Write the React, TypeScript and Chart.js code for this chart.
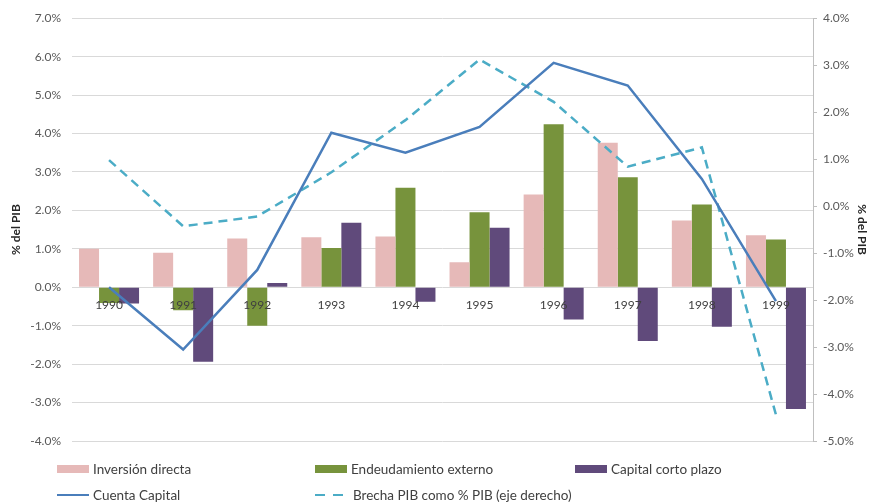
import React, { useEffect, useRef } from "react";
import { Chart, registerables } from "chart.js";

Chart.register(...registerables);

const years = ["1990", "1991", "1992", "1993", "1994", "1995", "1996", "1997", "1998", "1999"];
const inversionDirecta = [1.0, 0.9, 1.27, 1.3, 1.32, 0.65, 2.41, 3.76, 1.74, 1.35];
const endeudamientoExterno = [-0.41, -0.6, -1.0, 1.02, 2.59, 1.95, 4.24, 2.86, 2.15, 1.24];
const capitalCortoPlazo = [-0.42, -1.94, 0.11, 1.68, -0.38, 1.55, -0.84, -1.4, -1.03, -3.17];
const cuentaCapital = [0.0, -1.62, 0.45, 4.02, 3.5, 4.17, 5.84, 5.25, 2.82, -0.36];
const brechaPIB = [0.98, -0.43, -0.22, 0.72, 1.83, 3.12, 2.22, 0.84, 1.25, -4.44];

const leftMin = -4;
const leftMax = 7;
const rightMin = -5;
const rightMax = 4;

const FONT = "Lato, 'Open Sans', sans-serif";
const C_PINK = "#E6B9B8";
const C_GREEN = "#77933C";
const C_PURPLE = "#604A7B";
const C_BLUE = "#4A7EBB";
const C_CYAN = "#4BACC6";

const pct = (v: number | string) => `${Number(v).toFixed(1)}%`;

export default function App() {
  const ref = useRef<HTMLCanvasElement | null>(null);

  useEffect(() => {
    if (!ref.current) return;
    const chart = new Chart(ref.current, {
      type: "bar",
      data: {
        labels: years,
        datasets: [
          {
            type: "line",
            label: "Cuenta Capital",
            data: cuentaCapital,
            yAxisID: "y",
            borderColor: C_BLUE,
            backgroundColor: C_BLUE,
            borderWidth: 2.5,
            pointRadius: 0,
            tension: 0,
            order: 0,
          } as any,
          {
            type: "line",
            label: "Brecha PIB como % PIB (eje derecho)",
            data: brechaPIB,
            yAxisID: "y2",
            borderColor: C_CYAN,
            backgroundColor: C_CYAN,
            borderWidth: 2.5,
            borderDash: [9, 6],
            pointRadius: 0,
            tension: 0,
            order: 0,
          } as any,
          {
            label: "Inversión directa",
            data: inversionDirecta,
            yAxisID: "y",
            backgroundColor: C_PINK,
            categoryPercentage: 0.81,
            barPercentage: 1.0,
            order: 1,
          },
          {
            label: "Endeudamiento externo",
            data: endeudamientoExterno,
            yAxisID: "y",
            backgroundColor: C_GREEN,
            categoryPercentage: 0.81,
            barPercentage: 1.0,
            order: 1,
          },
          {
            label: "Capital corto plazo",
            data: capitalCortoPlazo,
            yAxisID: "y",
            backgroundColor: C_PURPLE,
            categoryPercentage: 0.81,
            barPercentage: 1.0,
            order: 1,
          },
        ],
      },
      options: {
        responsive: false,
        animation: false,
        devicePixelRatio: 1,
        layout: { padding: { top: 17, bottom: 61, left: 0, right: 0 } },
        plugins: {
          legend: { display: false },
          tooltip: { enabled: false },
        },
        scales: {
          x: {
            type: "category",
            position: { y: 0 } as any,
            grid: { display: false, drawTicks: false },
            border: { display: false },
            ticks: {
              z: 1,
              color: "#404040",
              font: { family: FONT, size: 12 },
              padding: 11,
              maxRotation: 0,
              autoSkip: false,
            },
          },
          y: {
            position: "left",
            min: leftMin,
            max: leftMax,
            afterFit: (s: any) => {
              s.width = 72;
            },
            ticks: {
              stepSize: 1,
              callback: (v: any) => pct(v),
              color: "#595959",
              font: { family: FONT, size: 12 },
              padding: 11,
            },
            grid: { color: "#d9d9d9", lineWidth: 1, drawTicks: false },
            border: { display: false },
            title: {
              display: true,
              text: "% del PIB",
              color: "#262626",
              font: { family: FONT, size: 12, weight: "bold" },
              padding: { top: 9, bottom: 0 },
            },
          },
          y2: {
            position: "right",
            min: rightMin,
            max: rightMax,
            afterFit: (s: any) => {
              s.width = 57;
            },
            ticks: {
              stepSize: 1,
              callback: (v: any) => pct(v),
              color: "#595959",
              font: { family: FONT, size: 12 },
              padding: 6,
            },
            grid: { drawOnChartArea: false, color: "#bfbfbf", tickLength: 4 },
            border: { display: true, color: "#bfbfbf" },
            title: {
              display: true,
              text: "% del PIB",
              color: "#262626",
              font: { family: FONT, size: 12, weight: "bold" },
              padding: { top: 1, bottom: 0 },
            },
          },
        },
      } as any,
    });
    return () => chart.destroy();
  }, []);

  const textStyle: React.CSSProperties = {
    position: "absolute",
    fontFamily: FONT,
    fontSize: 13.5,
    color: "#404040",
    lineHeight: "16px",
    whiteSpace: "nowrap",
  };

  const legendRow1 = [
    { label: "Inversión directa", color: C_PINK, x: 57 },
    { label: "Endeudamiento externo", color: C_GREEN, x: 315 },
    { label: "Capital corto plazo", color: C_PURPLE, x: 575 },
  ];

  return (
    <div
      style={{
        position: "fixed",
        left: 0,
        top: 0,
        width: 870,
        height: 502,
        background: "#ffffff",
        overflow: "hidden",
      }}
    >
      <canvas ref={ref} width={870} height={502} style={{ position: "absolute", left: 0, top: 0 }} />
      {legendRow1.map((it) => (
        <React.Fragment key={it.label}>
          <div
            style={{
              position: "absolute",
              left: it.x,
              top: 465,
              width: 32,
              height: 8,
              background: it.color,
            }}
          />
          <div style={{ ...textStyle, left: it.x + 36, top: 461 }}>{it.label}</div>
        </React.Fragment>
      ))}
      <div
        style={{
          position: "absolute",
          left: 57,
          top: 494,
          width: 32,
          height: 2,
          background: C_BLUE,
        }}
      />
      <div style={{ ...textStyle, left: 93, top: 487 }}>Cuenta Capital</div>
      <div
        style={{
          position: "absolute",
          left: 315,
          top: 494,
          width: 10,
          height: 2,
          background: C_CYAN,
        }}
      />
      <div
        style={{
          position: "absolute",
          left: 333,
          top: 494,
          width: 10,
          height: 2,
          background: C_CYAN,
        }}
      />
      <div style={{ ...textStyle, left: 353, top: 487 }}>Brecha PIB como % PIB (eje derecho)</div>
    </div>
  );
}
